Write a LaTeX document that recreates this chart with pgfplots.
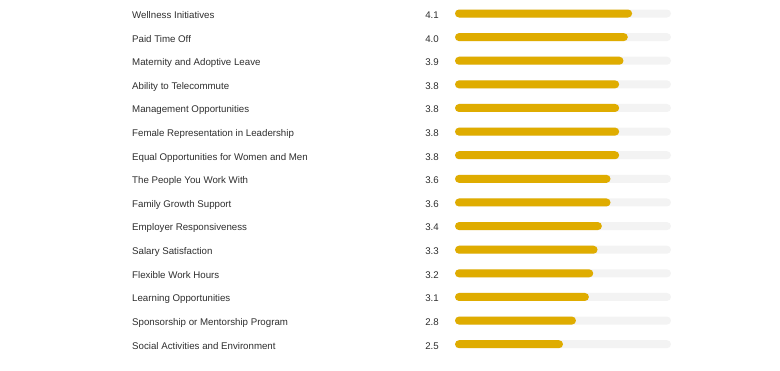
\documentclass[border=0pt]{standalone}
\usepackage{pgfplots}
\pgfplotsset{compat=1.18}
\usepackage{pgfplotstable}
\usepackage{fontspec}
\setmainfont{Liberation Sans}
\definecolor{gold}{HTML}{DFAC00}
\definecolor{track}{HTML}{F3F3F3}
\definecolor{txt}{HTML}{2E2E2E}
\pgfplotstableread[col sep=semicolon]{
idx;value;full;label
0;4.1;5;Wellness Initiatives
1;4.0;5;Paid Time Off
2;3.9;5;Maternity and Adoptive Leave
3;3.8;5;Ability to Telecommute
4;3.8;5;Management Opportunities
5;3.8;5;Female Representation in Leadership
6;3.8;5;Equal Opportunities for Women and Men
7;3.6;5;The People You Work With
8;3.6;5;Family Growth Support
9;3.4;5;Employer Responsiveness
10;3.3;5;Salary Satisfaction
11;3.2;5;Flexible Work Hours
12;3.1;5;Learning Opportunities
13;2.8;5;Sponsorship or Mentorship Program
14;2.5;5;Social Activities and Environment
}\data
\begin{document}
\begin{tikzpicture}
\begin{axis}[
  scale only axis, width=780bp, height=371bp,
  xmin=-10.5324, xmax=7.5231,
  ymin=-0.5716, ymax=15.1346,
  y dir=reverse,
  hide axis, clip=false,
  /pgf/number format/assume math mode=true,
  every node near coord/.append style={font=\fontsize{9.7bp}{11bp}\selectfont, text=txt, inner sep=0pt},
]
\path (rel axis cs:0,0) rectangle (rel axis cs:1,1);
\addplot[xbar, bar width=8bp, bar shift=0pt, fill=track, draw=none, rounded corners=4bp] table[x=full, y=idx] {\data};
\addplot[xbar, bar width=8bp, bar shift=0pt, fill=gold, draw=none, rounded corners=4bp] table[x=value, y=idx] {\data};
\addplot[draw=none, mark=none, nodes near coords, point meta=explicit symbolic,
  nodes near coords style={anchor=base west, yshift=-4.9bp}]
  table[x expr=-7.4769, y=idx, meta=label] {\data};
\addplot[draw=none, mark=none, nodes near coords={\pgfmathprintnumber[fixed,fixed zerofill,precision=1,assume math mode=true]{\pgfplotspointmeta}}, point meta=explicit,
  nodes near coords style={anchor=base east, yshift=-4.9bp}]
  table[x expr=-0.3704, y=idx, meta=value] {\data};
\end{axis}
\end{tikzpicture}
\end{document}
